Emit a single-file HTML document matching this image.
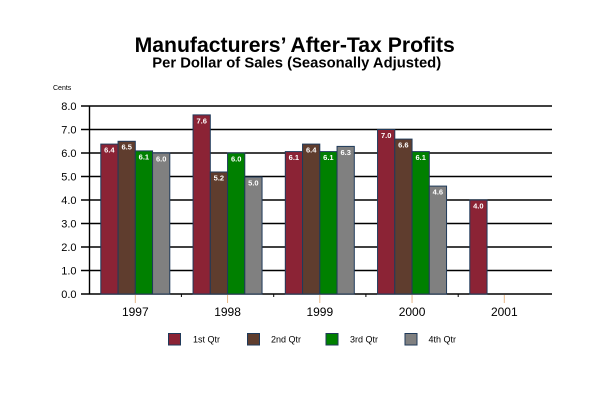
<!DOCTYPE html>
<html><head><meta charset="utf-8"><style>
html,body{margin:0;padding:0;background:#fff;}
svg{display:block;}
text{font-family:"Liberation Sans",Arial,sans-serif;}
</style></head><body>
<svg width="600" height="400" viewBox="0 0 600 400" xmlns="http://www.w3.org/2000/svg">
<rect width="600" height="400" fill="#fff"/>
<text x="294.7" y="52" font-size="21.2" font-weight="bold" text-anchor="middle" fill="#000">Manufacturers’ After-Tax Profits</text>
<text x="296.7" y="67.5" font-size="14.8" font-weight="bold" text-anchor="middle" fill="#000">Per Dollar of Sales (Seasonally Adjusted)</text>
<text x="53" y="90" font-size="7" fill="#000">Cents</text>
<g stroke="#000" stroke-width="1.4">
<line x1="81" y1="106" x2="552" y2="106"/>
<line x1="81" y1="129.5" x2="552" y2="129.5"/>
<line x1="81" y1="153" x2="552" y2="153"/>
<line x1="81" y1="176.5" x2="552" y2="176.5"/>
<line x1="81" y1="200" x2="552" y2="200"/>
<line x1="81" y1="223.5" x2="552" y2="223.5"/>
<line x1="81" y1="247" x2="552" y2="247"/>
<line x1="81" y1="270.5" x2="552" y2="270.5"/>
<line x1="81" y1="294" x2="552" y2="294"/>
<line x1="89.5" y1="106" x2="89.5" y2="294"/>
</g>
<g font-size="11" text-anchor="end" fill="#000">
<text x="76.5" y="110">8.0</text>
<text x="76.5" y="133.5">7.0</text>
<text x="76.5" y="157">6.0</text>
<text x="76.5" y="180.5">5.0</text>
<text x="76.5" y="204">4.0</text>
<text x="76.5" y="227.5">3.0</text>
<text x="76.5" y="251">2.0</text>
<text x="76.5" y="274.5">1.0</text>
<text x="76.5" y="298">0.0</text>
</g>
<g stroke="#1f3a5a" stroke-width="1">
<!-- 1997 c=135.3 -->
<rect x="100.8" y="144.1" width="17.25" height="149.9" fill="#8b2335"/>
<rect x="118.05" y="141.3" width="17.25" height="152.7" fill="#5f3d2e"/>
<rect x="135.3" y="150.9" width="17.25" height="143.1" fill="#008000"/>
<rect x="152.55" y="153" width="17.25" height="141" fill="#808080"/>
<!-- 1998 c=227.55 -->
<rect x="193.05" y="114.9" width="17.25" height="179.1" fill="#8b2335"/>
<rect x="210.3" y="172" width="17.25" height="122" fill="#5f3d2e"/>
<rect x="227.55" y="153" width="17.25" height="141" fill="#008000"/>
<rect x="244.8" y="177" width="17.25" height="117" fill="#808080"/>
<!-- 1999 c=319.8 -->
<rect x="285.3" y="151.6" width="17.25" height="142.4" fill="#8b2335"/>
<rect x="302.55" y="144.1" width="17.25" height="149.9" fill="#5f3d2e"/>
<rect x="319.8" y="151.6" width="17.25" height="142.4" fill="#008000"/>
<rect x="337.05" y="146.4" width="17.25" height="147.6" fill="#808080"/>
<!-- 2000 c=412.05 -->
<rect x="377.55" y="129.5" width="17.25" height="164.5" fill="#8b2335"/>
<rect x="394.8" y="139.1" width="17.25" height="154.9" fill="#5f3d2e"/>
<rect x="412.05" y="151.6" width="17.25" height="142.4" fill="#008000"/>
<rect x="429.3" y="186.1" width="17.25" height="107.9" fill="#808080"/>
<!-- 2001 c=504.3 -->
<rect x="469.8" y="200" width="17.25" height="94" fill="#8b2335"/>
</g>
<g font-size="7.5" font-weight="bold" fill="#fff" text-anchor="middle">
<text x="109.4" y="152.5">6.4</text>
<text x="126.7" y="149.7">6.5</text>
<text x="143.9" y="159.3">6.1</text>
<text x="161.2" y="161.4">6.0</text>
<text x="201.7" y="123.3">7.6</text>
<text x="218.9" y="180.4">5.2</text>
<text x="236.2" y="161.4">6.0</text>
<text x="253.4" y="185.4">5.0</text>
<text x="293.9" y="160">6.1</text>
<text x="311.2" y="152.5">6.4</text>
<text x="328.4" y="160">6.1</text>
<text x="345.7" y="154.8">6.3</text>
<text x="386.2" y="137.9">7.0</text>
<text x="403.4" y="147.5">6.6</text>
<text x="420.7" y="160">6.1</text>
<text x="437.9" y="194.5">4.6</text>
<text x="478.4" y="208.4">4.0</text>
</g>
<g stroke="#e8b888" stroke-width="1">
<line x1="135.3" y1="295" x2="135.3" y2="303"/>
<line x1="227.55" y1="295" x2="227.55" y2="303"/>
<line x1="319.8" y1="295" x2="319.8" y2="303"/>
<line x1="412.05" y1="295" x2="412.05" y2="303"/>
<line x1="504.3" y1="295" x2="504.3" y2="303"/>
</g>
<g stroke="#000" stroke-width="1">
<line x1="181.4" y1="294" x2="181.4" y2="297"/>
<line x1="273.7" y1="294" x2="273.7" y2="297"/>
<line x1="365.9" y1="294" x2="365.9" y2="297"/>
<line x1="458.2" y1="294" x2="458.2" y2="297"/>
</g>
<g font-size="12" text-anchor="middle" fill="#000">
<text x="135.3" y="316">1997</text>
<text x="227.55" y="316">1998</text>
<text x="319.8" y="316">1999</text>
<text x="412.05" y="316">2000</text>
<text x="504.3" y="316">2001</text>
</g>
<g stroke="#1f3a5a" stroke-width="1">
<rect x="168.5" y="333.5" width="12" height="11.5" fill="#8b2335"/>
<rect x="247.5" y="333.5" width="12" height="11.5" fill="#5f3d2e"/>
<rect x="326" y="333.5" width="12" height="11.5" fill="#008000"/>
<rect x="405" y="333.5" width="12" height="11.5" fill="#808080"/>
</g>
<g font-size="9" fill="#000">
<text x="193" y="342.5">1st Qtr</text>
<text x="271" y="342.5">2nd Qtr</text>
<text x="350" y="342.5">3rd Qtr</text>
<text x="428.5" y="342.5">4th Qtr</text>
</g>
</svg>
</body></html>
